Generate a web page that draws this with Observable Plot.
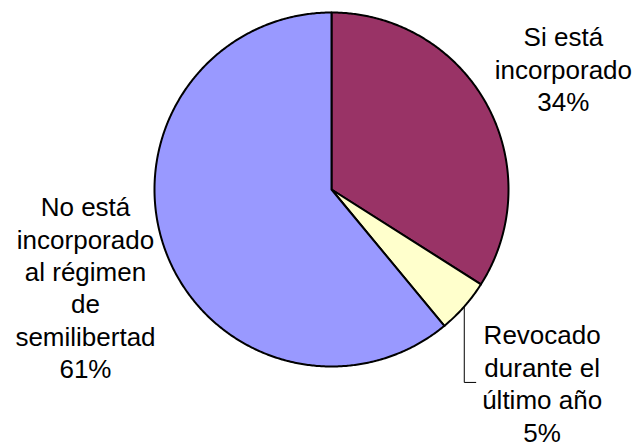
<!DOCTYPE html>
<html>
<head>
<meta charset="utf-8">
<script src="https://cdn.jsdelivr.net/npm/d3@7"></script>
<script src="https://cdn.jsdelivr.net/npm/@observablehq/plot@0.6"></script>
<style>
  html, body { margin: 0; padding: 0; background: #fff; }
  #chart svg { display: block; }
</style>
</head>
<body>
<div id="chart"></div>
<script>
// Data
const categories = ["Si está incorporado", "Revocado durante el último año", "No está incorporado al régimen de semilibertad"];
const values = [34, 5, 61];
const labels = ["Si está\nincorporado\n34%", "Revocado\ndurante el\núltimo año\n5%", "No está\nincorporado\nal régimen\nde\nsemilibertad\n61%"];
const colors = ["#993366", "#FFFFCC", "#9999FF"];
// label positions (in pie-radius units, relative to centre)
const labelX = [1.31, 1.19, -1.39];
const labelY = [0.685, -1.09, -0.55];

// Build slice polygons from values using d3.pie (starting at 12 o'clock, clockwise)
const pie = d3.pie().sort(null).value(d => d)(values);
const slicePoints = [];
pie.forEach((p, i) => {
  const n = Math.max(8, Math.ceil((p.endAngle - p.startAngle) * 120));
  slicePoints.push({cat: categories[i], x: 0, y: 0});
  for (let k = 0; k <= n; k++) {
    const a = p.startAngle + (p.endAngle - p.startAngle) * k / n;
    slicePoints.push({cat: categories[i], x: Math.sin(a), y: Math.cos(a)});
  }
  slicePoints.push({cat: categories[i], x: 0, y: 0});
});

// Leader line for the small slice: from mid-angle on the edge, down, then right to label
const small = pie[1];
const mid = (small.startAngle + small.endAngle) / 2;
const lx = Math.sin(mid), ly = Math.cos(mid);
const leader = [
  {x: lx, y: ly},
  {x: lx, y: labelY[1]},
  {x: lx + 0.065, y: labelY[1]}
];

const labelData = categories.map((c, i) => ({cat: c, text: labels[i], x: labelX[i], y: labelY[i]}));

const chart = Plot.plot({
  width: 643,
  height: 448,
  marginLeft: 154,
  marginRight: 643 - 508,
  marginTop: 12,
  marginBottom: 448 - 366,
  x: {domain: [-1, 1], axis: null},
  y: {domain: [-1, 1], axis: null},
  color: {domain: categories, range: colors},
  style: {fontFamily: "Arial, 'Liberation Sans', sans-serif", background: "#fff"},
  marks: [
    Plot.line(slicePoints, {x: "x", y: "y", z: "cat", fill: "cat", stroke: "#000", strokeWidth: 2, strokeLinejoin: "round", curve: "linear"}),
    Plot.line(leader, {x: "x", y: "y", stroke: "#000", strokeWidth: 1}),
    Plot.text(labelData, {x: "x", y: "y", text: "text", fontSize: 26, lineHeight: 1.25, textAnchor: "middle", lineAnchor: "middle", fill: "#000"})
  ]
});
document.getElementById("chart").appendChild(chart);
</script>
</body>
</html>
